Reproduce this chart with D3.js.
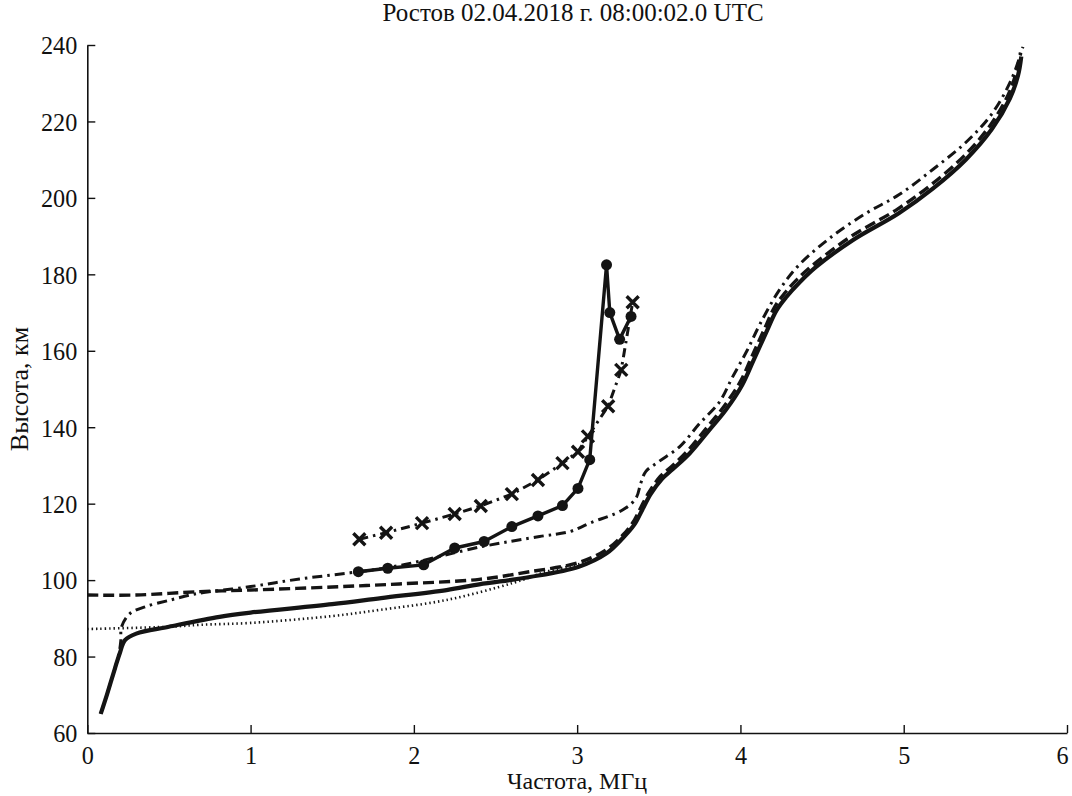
<!DOCTYPE html>
<html>
<head>
<meta charset="utf-8">
<script src="https://cdn.jsdelivr.net/npm/d3@7"></script>
<style>
  html, body { margin: 0; padding: 0; background: #fff; }
  svg { display: block; }
  text { font-family: "Liberation Serif", "DejaVu Serif", serif; fill: #111; }
</style>
</head>
<body>
<svg id="chart" width="1072" height="796"></svg>
<script>
// ---- Data (frequency MHz, height km) ----
const chartTitle = "Ростов 02.04.2018 г. 08:00:02.0 UTC";
const xLabel = "Частота, МГц";
const yLabel = "Высота, км";
const xTicks = [0, 1, 2, 3, 4, 5, 6];
const yTicks = [60, 80, 100, 120, 140, 160, 180, 200, 220, 240];

const solidSeries = [
  [0.082,65],[0.12,70],[0.17,77],[0.2,81],[0.231,84.3],[0.3,86],[0.5,87.8],[0.81,90.4],
  [1.0,91.5],[1.5,93.7],[1.8,95.3],[2.2,97.4],[2.4,98.9],[2.71,100.8],[3.01,103.5],
  [3.18,107],[3.28,111],[3.35,114.5],[3.4,118.5],[3.45,122.5],[3.52,126.5],[3.585,129],
  [3.69,133.2],[3.81,139.3],[3.91,144.5],[4.01,151],[4.08,157.5],[4.16,165],[4.22,170.5],
  [4.28,174],[4.36,177.8],[4.465,182],[4.69,189],[4.97,196],[5.18,202.5],[5.38,210],
  [5.54,218],[5.65,226],[5.70,232],[5.72,237]
];
const dashedSeries = [
  [0.0,96.1],[0.3,96.1],[0.69,97],[1.0,97.4],[1.5,98.2],[1.91,99],[2.4,100.2],[2.71,102.2],
  [3.01,104.6],[3.18,108],[3.28,111.8],[3.34,115],[3.39,119],[3.44,123],[3.51,127.2],
  [3.58,129.8],[3.68,134],[3.8,140.2],[3.9,145.5],[4.0,152],[4.07,158.5],[4.15,166],
  [4.21,171.5],[4.27,175],[4.35,178.8],[4.46,183],[4.68,190],[4.96,197],[5.17,203.5],
  [5.37,211],[5.53,219],[5.64,227],[5.69,233],[5.715,238]
];
const dottedSeries = [
  [0.0,87.2],[0.5,87.8],[0.69,88.3],[1.0,88.8],[1.5,90.6],[1.79,92.2],[2.2,94.8],
  [2.61,99.3],[2.81,102.2],[2.95,103.6],[3.05,104.5]
];
const dashDotSeries = [
  [0.082,65],[0.12,70],[0.17,77],[0.195,81],[0.205,84],[0.21,87.8],[0.26,91.2],[0.36,93.1],
  [0.51,94.8],[0.63,96.1],[0.69,96.6],[1.0,98.3],[1.3,100.3],[1.61,101.9],[1.91,103.8],
  [2.42,108.8],[2.77,111.4],[2.955,112.7],[3.077,114.9],[3.28,118.4],[3.36,121.4],
  [3.39,125.4],[3.42,128.4],[3.5,131],[3.63,135],[3.75,141],[3.87,146.5],[3.95,153],
  [4.04,160],[4.12,167],[4.24,176],[4.36,182.5],[4.56,189.9],[4.77,196],[4.97,200.8],
  [5.18,207.5],[5.38,214.5],[5.54,222],[5.66,231],[5.73,239.5]
];
const circleSeries = [
  [1.66,102.2],[1.84,103.1],[2.06,104],[2.25,108.4],[2.43,110.1],[2.60,114],[2.76,116.8],
  [2.91,119.5],[3.005,124],[3.077,131.5],[3.18,182.5],[3.20,170],[3.26,163],[3.33,169]
];
const crossSeries = [
  [1.666,110.7],[1.83,112.4],[2.05,114.9],[2.25,117.3],[2.41,119.4],[2.60,122.5],[2.76,126.2],
  [2.91,130.6],[3.005,133.6],[3.066,137.6],[3.19,145.5],[3.27,155],[3.34,172.7]
];

// ---- Layout ----
const W = 1072, H = 796;
const svg = d3.select("#chart");
svg.append("rect").attr("width", W).attr("height", H).attr("fill", "#fff");

const x = d3.scaleLinear().domain([0, 6]).range([87.3, 1067]);
const y = d3.scaleLinear().domain([60, 240]).range([733, 45]);

function squeeze(sel, k) {
  sel.each(function () {
    const len = this.getComputedTextLength();
    d3.select(this).attr("textLength", len * k).attr("lengthAdjust", "spacingAndGlyphs");
  });
}

// ---- Axes ----
const gx = svg.append("g").attr("transform", `translate(0,${y(60)})`)
  .call(d3.axisBottom(x).tickValues(xTicks).tickFormat(d3.format("d")).tickSizeInner(-8).tickSizeOuter(0).tickPadding(12));
const gy = svg.append("g").attr("transform", `translate(${x(0)},0)`)
  .call(d3.axisLeft(y).tickValues(yTicks).tickFormat(d3.format("d")).tickSizeInner(-8).tickSizeOuter(0).tickPadding(10));
[gx, gy].forEach(g => {
  g.select(".domain").attr("stroke", "#111").attr("stroke-width", 1.6);
  g.selectAll(".tick line").attr("stroke", "#111").attr("stroke-width", 1.4);
  g.selectAll(".tick text").attr("font-family", "Liberation Serif").attr("font-size", 26).attr("fill", "#111");
});
gx.selectAll(".tick text").attr("y", 31).attr("dy", 0)
  .attr("x", d => d === 6 ? -5 : 0);
gy.selectAll(".tick text").attr("dy", "0.34em");
squeeze(gx.selectAll(".tick text"), 0.93);
squeeze(gy.selectAll(".tick text"), 0.93);

// ---- Titles ----
svg.append("text").attr("x", 573).attr("y", 21).attr("text-anchor", "middle")
  .attr("font-size", 25).text(chartTitle);
svg.append("text").attr("x", 577).attr("y", 789).attr("text-anchor", "middle")
  .attr("font-size", 24).text(xLabel);
svg.append("text").attr("transform", `translate(28,389) rotate(-90)`).attr("text-anchor", "middle")
  .attr("font-size", 26).text(yLabel);

// ---- Lines ----
const smooth = d3.line().x(d => x(d[0])).y(d => y(d[1])).curve(d3.curveCatmullRom.alpha(0.5));
const straight = d3.line().x(d => x(d[0])).y(d => y(d[1]));
const plot = svg.append("g");

function addPath(data, gen, width, dash) {
  plot.append("path").datum(data).attr("d", gen).attr("fill", "none")
    .attr("stroke", "#141414").attr("stroke-width", width)
    .attr("stroke-linejoin", "round").attr("stroke-linecap", "butt")
    .attr("stroke-dasharray", dash || null);
}
addPath(dottedSeries, smooth, 2.6, "1.4,3");
addPath(dashedSeries, smooth, 3.4, "11,5");
addPath(dashDotSeries, smooth, 3.0, "10,5,2.5,5");
addPath(solidSeries, smooth, 4.2, null);
addPath(circleSeries, straight, 3.4, null);
addPath(crossSeries, straight, 3.0, "9,5,2.5,5");

// markers
plot.selectAll("circle.mk").data(circleSeries).join("circle").attr("class", "mk")
  .attr("cx", d => x(d[0])).attr("cy", d => y(d[1])).attr("r", 5.5).attr("fill", "#141414");
const cs = 6;
plot.selectAll("path.cross").data(crossSeries).join("path").attr("class", "cross")
  .attr("d", d => {
    const cx = x(d[0]), cy = y(d[1]);
    return `M${cx - cs},${cy - cs}L${cx + cs},${cy + cs}M${cx - cs},${cy + cs}L${cx + cs},${cy - cs}`;
  })
  .attr("stroke", "#141414").attr("stroke-width", 3.4).attr("fill", "none");
</script>
</body>
</html>
